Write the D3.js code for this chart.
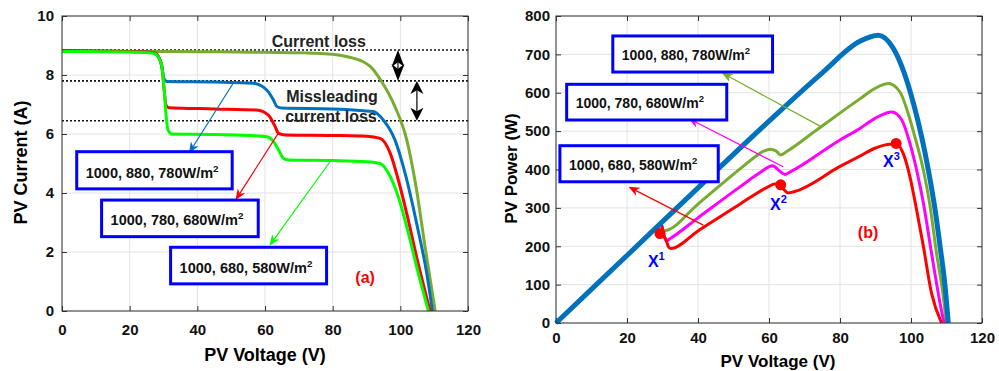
<!DOCTYPE html>
<html>
<head>
<meta charset="utf-8">
<script src="https://cdn.jsdelivr.net/npm/d3@7"></script>
<style>
  body { margin: 0; background: #fff; }
  text { font-family: "Liberation Sans", Arial, sans-serif; font-weight: bold; }
</style>
</head>
<body>
<svg id="chart" width="999" height="371"></svg>
<script>
// ---- data ----
const voltTicks = [0, 20, 40, 60, 80, 100, 120];
const currentTicks = [0, 2, 4, 6, 8, 10];
const powerTicks = [0, 100, 200, 300, 400, 500, 600, 700, 800];
const irradianceLabels = ['1000, 880, 780W/m', '1000, 780, 680W/m', '1000, 680, 580W/m'];

// I-V curves [V, A]
const ivUniform = [[0, 8.82], [20, 8.8], [40, 8.79], [60, 8.77], [72, 8.75], [80, 8.7], [85, 8.6], [88.5, 8.48],
  [91, 8.3], [94.5, 7.77], [98.4, 6.93], [101.9, 5.8], [104.8, 4.1], [107.3, 2.18], [110.3, 0]];
const ivShade1 = [[0, 8.82], [20, 8.8], [27, 8.76], [28.5, 8.62], [29.5, 8.3], [30.2, 7.85], [31, 7.78], [45, 7.76],
  [56.5, 7.72], [60.5, 7.49], [62.5, 7.15], [63.5, 6.93], [65, 6.88], [80, 6.85], [88, 6.8], [92, 6.76], [95, 6.47],
  [98.4, 5.8], [101.4, 4.67], [104.8, 2.98], [107.8, 1.28], [109.5, 0]];
const ivShade2 = [[0, 8.82], [20, 8.8], [27, 8.76], [28.5, 8.62], [29.5, 8.3], [30.2, 7.5], [30.7, 6.98], [31.6, 6.89],
  [45, 6.85], [57.5, 6.81], [61, 6.64], [63, 6.25], [64, 6.02], [66, 5.97], [80, 5.95], [90, 5.92], [94, 5.85],
  [97, 5.35], [99.4, 4.44], [101.9, 3.3], [104.8, 1.84], [108.8, 0]];
const ivShade3 = [[0, 8.8], [20, 8.78], [27, 8.74], [28.5, 8.6], [29.5, 8.3], [30.2, 7.5], [30.8, 6.6], [31.3, 6.15],
  [32.5, 6.0], [45, 5.98], [57, 5.94], [60.5, 5.91], [62.5, 5.75], [64, 5.46], [65.4, 5.18], [67, 5.12], [80, 5.1],
  [90, 5.06], [94, 5.0], [96.5, 4.67], [99.4, 3.87], [102.4, 2.63], [105.3, 1.28], [108.3, 0]];

// P-V curves [V, W]
const pvUniform = [[0, 0], [20, 176], [40, 352], [60, 526], [75, 652], [85.6, 734], [90.8, 750], [95, 716],
  [97.8, 659], [100.7, 572], [103, 485], [104.9, 398], [106.8, 294], [108.2, 199], [109.6, 95], [110.5, 0]];
const pvShade1 = [[0, 0], [20, 176], [28, 245], [29.6, 258], [30.2, 240], [31, 241], [40, 310], [52, 403],
  [56.5, 436], [58.5, 448], [60.5, 453], [62, 448], [63.3, 438], [65, 447], [73.4, 503], [85.6, 584], [90, 612],
  [93.6, 624], [96.9, 602], [99.2, 546], [101.1, 485], [103.5, 398], [105.4, 303], [107.2, 181], [109.1, 68], [109.9, 0]];
const pvShade2 = [[0, 0], [20, 176], [28, 246], [29.6, 258], [30.4, 228], [31.1, 214], [32, 219], [40, 274], [52, 356],
  [57.5, 392], [61, 410], [63, 396], [64.5, 387], [66, 394], [80, 477], [85.6, 507], [90, 534], [94.6, 550],
  [97.4, 529], [99.7, 468], [101.6, 398], [103.5, 312], [105.8, 181], [108.2, 51], [109.3, 0]];
const pvShade3 = [[0, 0], [20, 176], [28, 246], [29.6, 258], [30.4, 228], [31.1, 214], [31.6, 200], [32.3, 194],
  [40, 240], [52, 311], [60, 356], [61.5, 362], [63, 362], [64, 350], [65.4, 339], [67, 342], [80, 408], [85.6, 435],
  [90, 456], [94, 466], [96, 466], [97.8, 442], [99.7, 381], [101.6, 294], [103.5, 199], [105.8, 77], [108.6, 0]];

// reference current levels (dotted) and marked points X1..X3
const refCurrents = [8.85, 7.8, 6.45];
const markedPoints = [[29.3, 233], [63.3, 360], [95.8, 468]];

const cOlive = '#77AC30', cBlue = '#0072BD', cRed = '#FF0000', cGreen = '#00FF00', cMag = '#FF00FF';
const FONT = '"Liberation Sans", Arial, sans-serif';

const svg = d3.select('#chart');

function makePanel(o) {
  const x = d3.scaleLinear().domain([0, 120]).range([o.left, o.right]);
  const y = d3.scaleLinear().domain(o.yDomain).range([o.bottom, o.top]);
  const g = svg.append('g');

  // grid
  g.append('g').selectAll('line').data(voltTicks).join('line')
    .attr('x1', d => x(d)).attr('x2', d => x(d))
    .attr('y1', o.top).attr('y2', o.bottom)
    .attr('stroke', '#e3e3e3');
  g.append('g').selectAll('line').data(o.yTicks).join('line')
    .attr('x1', o.left).attr('x2', o.right)
    .attr('y1', d => y(d)).attr('y2', d => y(d))
    .attr('stroke', '#e3e3e3');

  const styleAxis = sel => {
    sel.select('.domain').remove();
    sel.selectAll('text').attr('font-size', 15).attr('font-family', FONT).attr('font-weight', 'bold').attr('fill', '#111');
    sel.selectAll('line').attr('stroke', '#333');
  };
  g.append('g').attr('transform', `translate(0,${o.bottom})`)
    .call(d3.axisBottom(x).tickValues(voltTicks).tickSizeInner(-5).tickSizeOuter(0).tickPadding(o.xPad))
    .call(styleAxis);
  g.append('g').attr('transform', `translate(0,${o.top})`)
    .call(d3.axisTop(x).tickValues(voltTicks).tickSizeInner(-5).tickSizeOuter(0).tickFormat(''))
    .call(styleAxis);
  g.append('g').attr('transform', `translate(${o.left},0)`)
    .call(d3.axisLeft(y).tickValues(o.yTicks).tickSizeInner(-5).tickSizeOuter(0).tickPadding(o.yPad))
    .call(styleAxis);
  g.append('g').attr('transform', `translate(${o.right},0)`)
    .call(d3.axisRight(y).tickValues(o.yTicks).tickSizeInner(-5).tickSizeOuter(0).tickFormat(''))
    .call(styleAxis);

  // axis titles
  g.append('text').attr('x', o.xLabelX).attr('y', o.xLabelY)
    .attr('text-anchor', 'middle').attr('font-size', o.labelSize).text('PV Voltage (V)');
  g.append('text').attr('transform', `translate(${o.yLabelX},${(o.top + o.bottom) / 2 - 1}) rotate(-90)`)
    .attr('text-anchor', 'middle').attr('font-size', o.labelSize).text(o.yLabel);

  const plot = g.append('g');
  const frame = () => g.append('rect')
    .attr('x', o.left).attr('y', o.top)
    .attr('width', o.right - o.left).attr('height', o.bottom - o.top)
    .attr('fill', 'none').attr('stroke', '#333');
  return { x, y, g: plot, frame };
}

function drawCurve(p, data, color, width) {
  const line = d3.line().x(d => p.x(d[0])).y(d => p.y(d[1])).curve(d3.curveMonotoneX);
  p.g.append('path').datum(data)
    .attr('fill', 'none').attr('stroke', color).attr('stroke-width', width)
    .attr('stroke-linejoin', 'round').attr('d', line);
}

// arrow with barbed head, pixel coordinates
function arrow(g, x1, y1, x2, y2, color, len, half, lw) {
  const a = Math.atan2(y2 - y1, x2 - x1);
  const ux = Math.cos(a), uy = Math.sin(a);
  const bx = x2 - ux * len, by = y2 - uy * len;
  const nx = x2 - ux * len * 0.72, ny = y2 - uy * len * 0.72;
  g.append('line').attr('x1', x1).attr('y1', y1).attr('x2', nx).attr('y2', ny)
    .attr('stroke', color).attr('stroke-width', lw);
  g.append('path')
    .attr('d', `M${x2},${y2}L${bx - uy * half},${by + ux * half}L${nx},${ny}L${bx + uy * half},${by - ux * half}Z`)
    .attr('fill', color);
}

function labelBox(p, b, text, size) {
  const x0 = p.x(b.v0), x1 = p.x(b.v1), y0 = p.y(b.top), y1 = p.y(b.bottom);
  p.g.append('rect').attr('x', x0).attr('y', y0).attr('width', x1 - x0).attr('height', y1 - y0)
    .attr('fill', '#fff').attr('stroke', '#0000FF').attr('stroke-width', 3);
  const t = p.g.append('text').attr('x', x0 + 9).attr('y', y0 + b.base).attr('font-size', size).attr('fill', '#111');
  t.append('tspan').text(text);
  t.append('tspan').attr('dy', -6).attr('font-size', size * 0.68).text('2');
}

// ---------------- left: I-V ----------------
const left = makePanel({
  left: 62, right: 468, top: 16, bottom: 311, yDomain: [0, 10], yTicks: currentTicks,
  xPad: 13, yPad: 8, xLabelX: 265, xLabelY: 361, yLabelX: 27, yLabel: 'PV Current (A)', labelSize: 18
});

left.g.selectAll('.ref').data(refCurrents).join('line')
  .attr('x1', left.x(0)).attr('x2', left.x(120))
  .attr('y1', d => left.y(d)).attr('y2', d => left.y(d))
  .attr('stroke', '#111').attr('stroke-width', 1.6).attr('stroke-dasharray', '2,2');

drawCurve(left, ivUniform, cOlive, 3);
drawCurve(left, ivShade1, cBlue, 3);
drawCurve(left, ivShade2, cRed, 3);
drawCurve(left, ivShade3, cGreen, 3);

// current-loss double arrows
function doubleArrow(p, v, iTop, iBot, len) {
  const xx = p.x(v), ya = p.y(iTop), yb = p.y(iBot), ym = (ya + yb) / 2;
  arrow(p.g, xx, ym, xx, ya, '#000', len, 6.5, 1.2);
  arrow(p.g, xx, ym, xx, yb, '#000', len, 6.5, 1.2);
}
doubleArrow(left, 99.3, refCurrents[0], refCurrents[1], 17);
doubleArrow(left, 104.9, refCurrents[1], refCurrents[2], 13);

left.g.append('text').attr('x', left.x(75.9)).attr('y', left.y(8.94)).attr('text-anchor', 'middle')
  .attr('font-size', 16).attr('fill', '#222').text('Current loss');
left.g.append('text').attr('x', left.x(79.8)).attr('y', left.y(7.09)).attr('text-anchor', 'middle')
  .attr('font-size', 16).attr('fill', '#222').text('Missleading');
left.g.append('text').attr('x', left.x(79.5)).attr('y', left.y(6.42)).attr('text-anchor', 'middle')
  .attr('font-size', 16).attr('fill', '#222').text('current loss');

const leftBoxes = [
  { v0: 4.35, v1: 50.3, top: 5.4, bottom: 4.14, base: 26 },
  { v0: 11.7, v1: 58.0, top: 3.76, bottom: 2.52, base: 25 },
  { v0: 32.1, v1: 78.2, top: 2.16, bottom: 0.92, base: 26 }
];
const leftArrows = [
  { from: [50.6, 7.72], to: [37.5, 5.35], color: cBlue },
  { from: [63.9, 6.02], to: [51.3, 3.76], color: cRed },
  { from: [79.2, 5.06], to: [61.3, 2.21], color: cGreen }
];
leftArrows.forEach(a => arrow(left.g, left.x(a.from[0]), left.y(a.from[1]), left.x(a.to[0]), left.y(a.to[1]), a.color, 11, 4.5, 1.2));
leftBoxes.forEach((b, i) => labelBox(left, b, irradianceLabels[i], 14.5));

left.g.append('text').attr('x', left.x(89.6)).attr('y', left.y(0.95)).attr('text-anchor', 'middle')
  .attr('font-size', 16).attr('fill', cRed).text('(a)');
left.frame();

// ---------------- right: P-V ----------------
const right = makePanel({
  left: 556, right: 982, top: 16, bottom: 323, yDomain: [0, 800], yTicks: powerTicks,
  xPad: 9, yPad: 6, xLabelX: 778, xLabelY: 367, yLabelX: 517, yLabel: 'PV Power (W)', labelSize: 17
});

drawCurve(right, pvShade1, cOlive, 3);
drawCurve(right, pvShade2, cMag, 3);
drawCurve(right, pvShade3, cRed, 3);
drawCurve(right, pvUniform, cBlue, 5);

const rightBoxes = [
  { v0: 16.0, v1: 61.0, top: 748, bottom: 654, base: 24 },
  { v0: 3.0, v1: 48.1, top: 622, bottom: 529, base: 24 },
  { v0: 1.1, v1: 45.7, top: 462, bottom: 368, base: 24 }
];
const rightArrows = [
  { from: [74.4, 513], to: [46.7, 652], color: cOlive },
  { from: [64.0, 407], to: [37.3, 533], color: cMag },
  { from: [41.5, 255], to: [20.4, 355], color: cRed }
];
rightArrows.forEach(a => arrow(right.g, right.x(a.from[0]), right.y(a.from[1]), right.x(a.to[0]), right.y(a.to[1]), a.color, 11, 4.5, 1.2));
rightBoxes.forEach((b, i) => labelBox(right, b, irradianceLabels[i], 14));

right.g.selectAll('.mp').data(markedPoints).join('circle')
  .attr('cx', d => right.x(d[0])).attr('cy', d => right.y(d[1])).attr('r', 5.5).attr('fill', cRed);

const pointLabels = [[25.9, 146.6], [60.3, 294], [92.1, 407]];
pointLabels.forEach((d, i) => {
  const t = right.g.append('text').attr('x', right.x(d[0])).attr('y', right.y(d[1]))
    .attr('font-size', 16).attr('fill', '#0000FF');
  t.append('tspan').text('X');
  t.append('tspan').attr('dy', -7).attr('font-size', 11).text(String(i + 1));
});

right.g.append('text').attr('x', right.x(87.9)).attr('y', right.y(221)).attr('text-anchor', 'middle')
  .attr('font-size', 16).attr('fill', cRed).text('(b)');
right.frame();
</script>
</body>
</html>
